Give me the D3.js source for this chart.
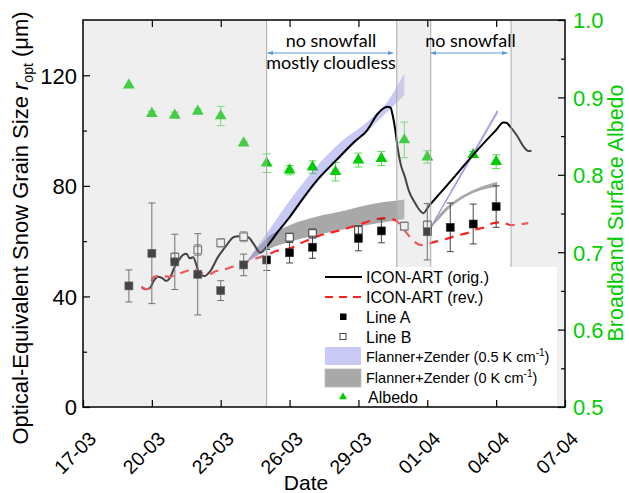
<!DOCTYPE html>
<html><head><meta charset="utf-8">
<script src="https://cdn.jsdelivr.net/npm/d3@7"></script>
<style>body{margin:0;background:#fff}</style>
</head><body>
<svg id="c" width="629" height="493"></svg>
<script>
// ---------- data (x = days since 17-03) ----------
const xTickDays = [0,3,6,9,12,15,18,21];
const xTickLabels = ["17-03","20-03","23-03","26-03","29-03","01-04","04-04","07-04"];
const yTicks = [0,40,80,120];
const yMinorTicks = [20,60,100,140];
const albedoTicks = [0.5,0.6,0.7,0.8,0.9,1.0];
const albedoMinorTicks = [0.55,0.65,0.75,0.85,0.95];

const shadedPeriods = [[0,8.0],[13.67,15.15],[18.65,21]];
const annotations = [
  {text:"no snowfall", x0:8.0, x1:13.55},
  {text:"no snowfall", x0:15.12, x1:18.53}
];

const origDays = [2.55,2.7,2.9,3.1,3.26,3.45,3.63,3.78,4.0,4.14,4.36,4.51,4.65,4.8,4.94,5.09,5.31,5.53,5.89,6.26,6.55,6.77,7.0,7.2,7.42,7.72,8.0,8.5,9.03,9.5,10.2,10.7,11.22,11.8,12.39,12.83,13.05,13.27,13.4,13.49,13.6,13.71,13.85,14.0,14.21,14.43,14.6,14.83,15.05,15.5,16.0,16.43,17.0,17.5,18.0,18.31,18.45,18.6,18.89,19.25,19.4,19.54];
const origVals = [43.5,42.6,42.9,45.9,47.1,46.6,45.6,46.6,50.8,52.6,55.0,55.4,53.8,54.2,51.4,47.8,47.4,49.0,54.4,58.6,61.4,61.8,61.6,61.4,59.2,55.8,58.0,63.5,69.0,74.5,82.1,86.5,90.9,95.8,100.2,106.0,107.8,108.6,108.3,105.6,100.5,93.6,87.5,83.9,77.9,74.3,72.0,70.1,72.5,76.8,81.5,85.7,91.2,95.8,100.2,102.9,102.8,101.5,98.4,93.6,92.6,92.7];

const revDays = [2.54,2.83,3.09,3.41,3.78,4.14,4.55,4.87,5.1,5.5,5.75,6.33,6.62,7.06,7.35,7.64,8.0,8.45,9.03,9.4,9.91,10.27,11.15,11.95,12.24,13.12,13.4,13.63,14.0,14.36,14.73,15.09,15.53,15.9,16.33,16.7,17.14,17.5,17.87,18.23,18.67,19.03,19.4];
const revVals = [43.3,42.6,47.1,47.4,47.1,48.1,49.3,50.0,48.6,48.0,49.0,50.2,51.0,52.2,53.2,54.0,55.0,56.5,57.4,59.0,60.7,61.9,63.8,65.8,66.6,68.3,68.0,67.5,64.0,60.4,58.6,59.2,60.2,61.0,62.2,62.8,64.3,65.0,66.5,66.8,65.8,66.1,66.5];

const lineADays = [2,3,4,5,6,7,8,9,10,12,13,15,16,17,18];
const lineAVals = [43.8,55.6,52.5,48.0,42.1,51.4,53.2,55.8,57.8,61.0,63.7,63.4,65.0,66.2,72.5];
const lineAErr  = [5.8,18.2,10.0,14.7,3.6,3.9,3.8,3.7,4.0,4.5,4.3,10.2,8.8,7.2,7.5];

const lineBDays = [4,5,6,7,9,10,12,14,15];
const lineBVals = [54.2,56.8,59.4,61.6,61.4,62.8,64.0,65.4,65.8];
const lineBErr  = [1.5,2.0,1.5,1.8,1.5,1.8,1.6,1.5,1.5];

const albedoDays = [2,3,4,5,6,7,8,9,10,11,12,13,14,15,17,18];
const albedoVals = [0.916,0.879,0.877,0.882,0.876,0.841,0.815,0.806,0.810,0.804,0.819,0.821,0.845,0.823,0.826,0.817];
const albedoErr  = [0,0.003,0.004,0.003,0.0125,0.002,0.012,0.006,0.008,0.012,0.009,0.009,0.023,0.008,0.004,0.009];

const fz05aDays = [7.05,8.0,9.03,10.2,11.22,12.39,13.27,14.0];
const fz05aLow  = [51.8,57.6,68.3,81.2,90.2,99.8,106.8,112.9];
const fz05aHigh = [51.8,62.8,75.0,87.2,95.8,103.2,110.5,120.7];
const fz05bDays = [15.05,16.0,17.0,18.05];
const fz05bLow  = [63.6,77.0,91.2,106.3];
const fz05bHigh = [63.6,77.5,92.0,107.2];

const fz0aDays = [7.05,8.0,9.03,10.2,11.22,12.39,14.0];
const fz0aLow  = [51.8,56.8,59.8,62.2,64.0,65.8,68.0];
const fz0aHigh = [51.8,61.0,65.8,68.9,70.7,73.1,75.1];
const fz0bDays = [15.05,15.56,16.04,17.0,18.05];
const fz0bLow  = [63.6,68.4,72.4,77.4,79.7];
const fz0bHigh = [63.6,70.0,73.7,78.5,81.5];

// ---------- setup ----------
const FONT = "'Liberation Sans', Arial, sans-serif";
const GREEN = "#00cc00";
const svg = d3.select("#c");
const L = 83, R = 565, T = 20, B = 407;
const x = d3.scaleLinear().domain([0,21]).range([L,R]);
const y = d3.scaleLinear().domain([0,140]).range([B,T]);
const yA = d3.scaleLinear().domain([0.5,1.0]).range([B,T]);

const defs = svg.append("defs");
defs.append("clipPath").attr("id","clip").append("rect").attr("x",L).attr("y",T).attr("width",R-L).attr("height",B-T);
defs.append("marker").attr("id","arr").attr("viewBox","0 0 10 10").attr("refX",9).attr("refY",5)
  .attr("markerWidth",6).attr("markerHeight",6).attr("orient","auto-start-reverse")
  .append("path").attr("d","M0,1.5L10,5L0,8.5Z").attr("fill","#5b9bd5");

const plot = svg.append("g").attr("clip-path","url(#clip)");

// albedo triangles (drawn first; bands overlay them)
const zip = (a,b,c) => a.map((v,i)=>({d:v, v:b[i], e:c ? c[i] : 0}));
const albedo = zip(albedoDays, albedoVals, albedoErr);
const gAlb = plot.append("g");
albedo.filter(p=>p.e>0).forEach(p=>{
  const cx = x(p.d), y1 = yA(p.v+p.e), y2 = yA(p.v-p.e);
  gAlb.append("line").attr("x1",cx).attr("x2",cx).attr("y1",y1).attr("y2",y2).attr("stroke","#55dd55").attr("stroke-width",1);
  [y1,y2].forEach(yy=>gAlb.append("line").attr("x1",cx-4).attr("x2",cx+4).attr("y1",yy).attr("y2",yy).attr("stroke","#55dd55").attr("stroke-width",1));
});
gAlb.selectAll("path").data(albedo).join("path")
  .attr("d", d3.symbol(d3.symbolTriangle, 60))
  .attr("transform", p=>`translate(${x(p.d)},${yA(p.v)})`)
  .attr("fill", GREEN);

// bands
const area = d3.area().x(p=>x(p.d)).y0(p=>y(p.lo)).y1(p=>y(p.hi)).curve(d3.curveMonotoneX);
const band = (days, lo, hi) => days.map((d,i)=>({d, lo:lo[i], hi:hi[i]}));
plot.append("path").datum(band(fz0aDays,fz0aLow,fz0aHigh)).attr("d",area).attr("fill","#a8a8a8");
plot.append("path").datum(band(fz0bDays,fz0bLow,fz0bHigh)).attr("d",area).attr("fill","#a8a8a8");
plot.append("path").datum(band(fz05aDays,fz05aLow,fz05aHigh)).attr("d",area).attr("fill","rgb(100,100,230)").attr("fill-opacity",0.35);
plot.append("path").datum(band(fz05bDays,fz05bLow,fz05bHigh)).attr("d",area).attr("fill","rgb(100,100,230)").attr("fill-opacity",0.35)
  .attr("stroke","#8080d0").attr("stroke-width",0.7);

// model lines
const line = d3.line().x(p=>x(p.d)).y(p=>y(p.v)).curve(d3.curveMonotoneX);
plot.append("path").datum(zip(origDays,origVals)).attr("d",line).attr("fill","none").attr("stroke","#000").attr("stroke-width",2);
plot.append("path").datum(zip(revDays,revVals)).attr("d",line).attr("fill","none").attr("stroke","#ff2020").attr("stroke-width",2.2).attr("stroke-dasharray","9,7");

// measurements
function errBars(g, data, color, cap){
  data.forEach(p=>{
    const cx = x(p.d), y1 = y(p.v+p.e), y2 = y(p.v-p.e);
    g.append("line").attr("x1",cx).attr("x2",cx).attr("y1",y1).attr("y2",y2).attr("stroke",color).attr("stroke-width",1);
    [y1,y2].forEach(yy=>g.append("line").attr("x1",cx-cap).attr("x2",cx+cap).attr("y1",yy).attr("y2",yy).attr("stroke",color).attr("stroke-width",1));
  });
}
const lineA = zip(lineADays,lineAVals,lineAErr);
const lineB = zip(lineBDays,lineBVals,lineBErr);
const gB = plot.append("g"), gA = plot.append("g");
errBars(gB, lineB, "#777", 3.5);
errBars(gA, lineA, "#444", 3.5);
gB.selectAll("rect").data(lineB).join("rect")
  .attr("x",p=>x(p.d)-3.8).attr("y",p=>y(p.v)-3.8).attr("width",7.6).attr("height",7.6)
  .attr("fill","#fff").attr("stroke","#555").attr("stroke-width",1.2);
gA.selectAll("rect").data(lineA).join("rect")
  .attr("x",p=>x(p.d)-4).attr("y",p=>y(p.v)-4).attr("width",8).attr("height",8)
  .attr("fill","#000").attr("stroke","#333").attr("stroke-width",0.6);

// shaded (non-selected) periods overlay
plot.selectAll("rect.shade").data(shadedPeriods).join("rect").attr("class","shade")
  .attr("x",p=>x(p[0])).attr("y",T).attr("width",p=>x(p[1])-x(p[0])).attr("height",B-T)
  .attr("fill","rgb(205,205,205)").attr("fill-opacity",0.33);
const bounds = [shadedPeriods[0][1], shadedPeriods[1][0], shadedPeriods[1][1], shadedPeriods[2][0]];
plot.selectAll("line.vb").data(bounds).join("line").attr("class","vb")
  .attr("x1",d=>x(d)).attr("x2",d=>x(d)).attr("y1",T).attr("y2",B).attr("stroke","#aaa").attr("stroke-width",1);

// annotations
annotations.forEach(a=>{
  svg.append("line").attr("x1",x(a.x0)+1).attr("x2",x(a.x1)-1).attr("y1",53).attr("y2",53)
    .attr("stroke","#5b9bd5").attr("stroke-width",1).attr("marker-start","url(#arr)").attr("marker-end","url(#arr)");
});
svg.append("text").attr("x",331).attr("y",47).attr("text-anchor","middle").attr("font-family","Lato, sans-serif").attr("font-size",18).text("no snowfall");
svg.append("text").attr("x",331).attr("y",69).attr("text-anchor","middle").attr("font-family","Lato, sans-serif").attr("font-size",18).text("mostly cloudless");
svg.append("text").attr("x",470.5).attr("y",47).attr("text-anchor","middle").attr("font-family","Lato, sans-serif").attr("font-size",18).text("no snowfall");

// legend
const lg = svg.append("g").attr("font-family",FONT);
lg.append("rect").attr("x",320).attr("y",267).attr("width",237).attr("height",140).attr("fill","#fff");
const lx0 = 325, lx1 = 362, tx = 366;
lg.append("line").attr("x1",lx0).attr("x2",lx1).attr("y1",277).attr("y2",277).attr("stroke","#000").attr("stroke-width",2);
lg.append("line").attr("x1",lx0).attr("x2",lx1).attr("y1",297).attr("y2",297).attr("stroke","#ff2020").attr("stroke-width",2.2).attr("stroke-dasharray","8,6");
lg.append("rect").attr("x",340).attr("y",313.5).attr("width",6.5).attr("height",6.5).attr("fill","#000");
lg.append("rect").attr("x",340).attr("y",333.5).attr("width",6).attr("height",6).attr("fill","#fff").attr("stroke","#444").attr("stroke-width",1);
lg.append("rect").attr("x",lx0).attr("y",347).attr("width",36).attr("height",18).attr("fill","rgb(100,100,230)").attr("fill-opacity",0.35);
lg.append("rect").attr("x",lx0).attr("y",369).attr("width",36).attr("height",18).attr("fill","#a8a8a8").attr("stroke","#bbb").attr("stroke-width",0.8);
lg.append("path").attr("d", d3.symbol(d3.symbolTriangle, 28)).attr("transform","translate(343,397)").attr("fill",GREEN);
const ltxt = (yy, s, fs) => lg.append("text").attr("x",tx).attr("y",yy).attr("font-size",fs).text(s);
ltxt(283,"ICON-ART (orig.)",16);
ltxt(303,"ICON-ART (rev.)",16);
ltxt(323,"Line A",16);
ltxt(343,"Line B",16);
const f1 = ltxt(362,"Flanner+Zender (0.5 K cm",14.5);
f1.append("tspan").attr("font-size",10).attr("dy",-6).text("-1");
f1.append("tspan").attr("dy",6).text(")");
const f2 = ltxt(383,"Flanner+Zender (0 K cm",14.5);
f2.append("tspan").attr("font-size",10).attr("dy",-6).text("-1");
f2.append("tspan").attr("dy",6).text(")");
lg.append("text").attr("x",tx+2).attr("y",403).attr("font-size",16).text("Albedo");

// axes
const styleAxis = g => { g.select(".domain").remove(); g.selectAll("line").attr("stroke","#000").attr("stroke-width",1.2); g.selectAll("text").attr("font-family",FONT); };
const gx = svg.append("g").attr("transform",`translate(0,${B})`)
  .call(d3.axisBottom(x).tickValues(xTickDays).tickSizeInner(-7).tickSizeOuter(0).tickFormat((d,i)=>xTickLabels[i]))
  .call(styleAxis);
gx.selectAll("text").attr("font-size",19.5).attr("fill","#000").attr("text-anchor","end")
  .attr("x",14).attr("y",33).attr("dy",null).attr("transform","rotate(-45,14,33)");
svg.append("g").attr("transform",`translate(0,${T})`)
  .call(d3.axisTop(x).tickValues(xTickDays.slice(1,-1)).tickSizeInner(-7).tickSizeOuter(0).tickFormat(""))
  .call(styleAxis);
const gy = svg.append("g").attr("transform",`translate(${L},0)`)
  .call(d3.axisLeft(y).tickValues(yTicks).tickSizeInner(-7).tickSizeOuter(0).tickPadding(6))
  .call(styleAxis);
gy.selectAll("text").attr("font-size",22).attr("fill","#000").attr("dy","0.36em");
svg.append("g").attr("transform",`translate(${L},0)`)
  .call(d3.axisLeft(y).tickValues(yMinorTicks.filter(v=>v<140)).tickSizeInner(-4).tickSizeOuter(0).tickFormat(""))
  .call(styleAxis);
const gr = svg.append("g").attr("transform",`translate(${R},0)`)
  .call(d3.axisRight(yA).tickValues(albedoTicks).tickSizeInner(-7).tickSizeOuter(0).tickPadding(8).tickFormat(d3.format(".1f")))
  .call(styleAxis);
gr.selectAll("text").attr("font-size",22).attr("fill",GREEN).attr("dy","0.36em");
svg.append("g").attr("transform",`translate(${R},0)`)
  .call(d3.axisRight(yA).tickValues(albedoMinorTicks).tickSizeInner(-4).tickSizeOuter(0).tickFormat(""))
  .call(styleAxis);

// frame
svg.append("rect").attr("x",L).attr("y",T).attr("width",R-L).attr("height",B-T)
  .attr("fill","none").attr("stroke","#000").attr("stroke-width",1.5);

// axis titles
svg.append("text").attr("x",(L+R)/2 - 18).attr("y",490).attr("text-anchor","middle")
  .attr("font-family",FONT).attr("font-size",21).text("Date");
const yt = svg.append("text").attr("transform","translate(28,228) rotate(-90)").attr("text-anchor","middle")
  .attr("font-family",FONT).attr("font-size",22);
yt.append("tspan").text("Optical-Equivalent Snow Grain Size ");
yt.append("tspan").attr("font-style","italic").text("r");
yt.append("tspan").attr("font-size",14).attr("dy",5).text("opt");
yt.append("tspan").attr("dy",-5).text(" (\u03bcm)");
svg.append("text").attr("transform","translate(623,213) rotate(-90)").attr("text-anchor","middle")
  .attr("font-family",FONT).attr("font-size",21.5).attr("fill",GREEN).text("Broadband Surface Albedo");
</script>
</body></html>
